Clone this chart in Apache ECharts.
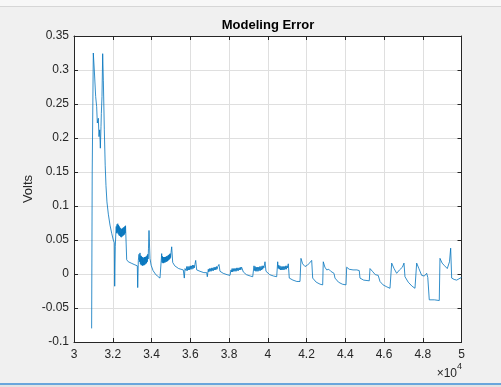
<!DOCTYPE html>
<html>
<head>
<meta charset="utf-8">
<script src="https://cdn.jsdelivr.net/npm/echarts@6/dist/echarts.min.js"></script>
<style>
  html, body { margin: 0; padding: 0; background: #f0f0f0; }
  #chart { width: 501px; height: 387px; }
</style>
</head>
<body>
<div id="chart"></div>
<script>
// ---- Data (time in samples, error in volts) ----
const chartTitle = "Modeling Error";
const yAxisName = "Volts";
const xTickValues = [30000, 32000, 34000, 36000, 38000, 40000, 42000, 44000, 46000, 48000, 50000];
const yTickValues = [-0.1, -0.05, 0, 0.05, 0.1, 0.15, 0.2, 0.25, 0.3, 0.35];
const xExponentBase = "×10";
const xExponentPower = "4";

const errorSeries = [
  [30910, -0.080], [30940, 0.150], [30996, 0.325], [31048, 0.300], [31118, 0.261],
  [31170, 0.246], [31204, 0.222], [31256, 0.229], [31290, 0.202], [31325, 0.212],
  [31360, 0.185], [31394, 0.217], [31411, 0.236], [31445, 0.261], [31480, 0.324],
  [31515, 0.285], [31565, 0.212], [31610, 0.160], [31650, 0.130], [31700, 0.106],
  [31772, 0.088], [31858, 0.072], [31945, 0.060], [32028, 0.050], [32080, 0.046],
  [32100, -0.018], [32130, 0.040], [32168, 0.066],
  [32180, 0.070], [32200, 0.060], [32220, 0.073], [32240, 0.061], [32260, 0.074],
  [32280, 0.059], [32300, 0.072], [32320, 0.057], [32340, 0.070], [32360, 0.056],
  [32380, 0.068], [32400, 0.055], [32420, 0.067], [32440, 0.054], [32460, 0.066],
  [32480, 0.055], [32500, 0.067], [32520, 0.056], [32540, 0.068], [32560, 0.057],
  [32580, 0.069], [32600, 0.058], [32620, 0.070], [32640, 0.060], [32660, 0.071],
  [32684, 0.073], [32720, 0.021], [32800, 0.018],
  [32950, 0.016], [33100, 0.014], [33267, 0.012], [33288, -0.020], [33320, 0.020],
  [33355, 0.029], [33380, 0.018], [33406, 0.031], [33425, 0.015], [33445, 0.027],
  [33465, 0.013], [33485, 0.026], [33505, 0.013], [33525, 0.025], [33545, 0.012],
  [33565, 0.024], [33585, 0.013], [33605, 0.024], [33625, 0.013], [33645, 0.025],
  [33665, 0.014], [33685, 0.025], [33705, 0.015], [33725, 0.026], [33745, 0.016],
  [33765, 0.027], [33785, 0.018], [33805, 0.029], [33825, 0.022], [33845, 0.038],
  [33871, 0.064], [33922, 0.023], [33980, 0.013], [34080, 0.005], [34200, 0.000],
  [34300, -0.003], [34438, -0.006], [34526, 0.030], [34545, 0.017], [34565, 0.026],
  [34585, 0.016], [34605, 0.025], [34625, 0.016], [34645, 0.025], [34665, 0.017],
  [34685, 0.025], [34705, 0.017], [34725, 0.025], [34745, 0.018], [34765, 0.026],
  [34785, 0.018], [34805, 0.026], [34825, 0.019], [34845, 0.027], [34865, 0.020],
  [34885, 0.028], [34905, 0.021], [34925, 0.029], [34945, 0.022], [34965, 0.030],
  [34985, 0.024], [35010, 0.032], [35042, 0.040], [35094, 0.017], [35200, 0.012],
  [35400, 0.008], [35641, 0.006], [35693, -0.006], [35730, 0.008], [35765, 0.010],
  [35790, 0.005], [35820, 0.011], [35850, 0.005], [35880, 0.011], [35910, 0.006],
  [35940, 0.011], [35970, 0.006], [36000, 0.012], [36030, 0.007], [36060, 0.012],
  [36090, 0.007], [36120, 0.013], [36150, 0.008], [36180, 0.013], [36210, 0.009],
  [36240, 0.014], [36281, 0.020], [36333, 0.006], [36500, 0.004], [36700, 0.002],
  [36849, 0.002], [36880, -0.004], [36931, 0.007], [36960, 0.003], [36990, 0.008],
  [37020, 0.004], [37050, 0.008], [37080, 0.004], [37110, 0.009], [37140, 0.005],
  [37170, 0.009], [37200, 0.005], [37230, 0.010], [37260, 0.006], [37290, 0.010],
  [37320, 0.006], [37350, 0.011], [37380, 0.007], [37420, 0.011], [37483, 0.014],
  [37535, 0.004], [37700, 0.001], [37900, -0.001], [38051, -0.002], [38103, 0.006],
  [38130, 0.003], [38160, 0.008], [38190, 0.003], [38220, 0.008], [38250, 0.004],
  [38280, 0.008], [38310, 0.004], [38340, 0.008], [38370, 0.004], [38400, 0.009],
  [38430, 0.005], [38460, 0.009], [38490, 0.005], [38520, 0.009], [38550, 0.006],
  [38580, 0.010], [38610, 0.006], [38650, 0.010], [38707, 0.012], [38738, 0.003],
  [38900, -0.001], [39100, -0.003], [39223, -0.004], [39290, 0.012], [39320, 0.005],
  [39350, 0.011], [39380, 0.004], [39410, 0.010], [39440, 0.004], [39470, 0.010],
  [39500, 0.004], [39530, 0.010], [39560, 0.005], [39590, 0.011], [39620, 0.005],
  [39650, 0.011], [39680, 0.006], [39710, 0.012], [39740, 0.007], [39770, 0.012],
  [39800, 0.009], [39830, 0.013], [39858, 0.018], [39909, 0.004], [40100, -0.001],
  [40300, -0.003], [40461, -0.004], [40513, 0.018], [40540, 0.008], [40570, 0.013],
  [40600, 0.007], [40630, 0.012], [40660, 0.006], [40690, 0.011], [40720, 0.006],
  [40750, 0.011], [40780, 0.006], [40810, 0.011], [40840, 0.006], [40870, 0.011],
  [40900, 0.007], [40930, 0.012], [40960, 0.007], [40990, 0.012], [41020, 0.009],
  [41060, 0.015], [41112, -0.006], [41300, -0.009], [41500, -0.011], [41664, -0.011],
  [41715, 0.023], [41800, 0.015], [41922, 0.011], [42050, 0.013], [42150, 0.016],
  [42268, 0.020], [42319, -0.006], [42500, -0.012], [42700, -0.015], [42835, -0.016],
  [42866, 0.018], [42950, 0.010], [43042, 0.006], [43150, 0.007], [43250, 0.004],
  [43350, 0.004], [43419, 0.001], [43470, -0.006], [43650, -0.012], [43850, -0.015],
  [44038, -0.016], [44074, 0.010], [44200, 0.007], [44400, 0.006], [44600, 0.006],
  [44724, 0.005], [44760, -0.006], [44950, -0.009], [45240, -0.010], [45277, 0.008],
  [45400, 0.004], [45550, -0.001], [45700, -0.002], [45793, -0.011], [45950, -0.016],
  [46150, -0.019], [46309, -0.021], [46396, 0.016], [46520, 0.008], [46654, 0.001],
  [46800, 0.006], [46950, 0.010], [47031, 0.016], [47083, -0.004], [47250, -0.012],
  [47450, -0.018], [47599, -0.021], [47686, 0.016], [47800, 0.008], [47944, -0.002],
  [48080, -0.003], [48203, 0.001], [48260, -0.005], [48337, -0.038], [48600, -0.038],
  [48853, -0.039], [48889, 0.023], [49000, 0.016], [49096, 0.013], [49266, 0.008],
  [49380, 0.018], [49441, 0.038], [49493, -0.006], [49620, -0.008], [49751, -0.009],
  [50000, -0.005]
];

// ---- Chart ----
const FONT = '"Liberation Sans", Arial, Helvetica, sans-serif';
const AXIS_COLOR = '#262626';
const GRID_COLOR = '#dfdfdf';

const xMin = xTickValues[0], xMax = xTickValues[xTickValues.length - 1];
const xStep = xTickValues[1] - xTickValues[0];
const yMin = yTickValues[0], yMax = yTickValues[yTickValues.length - 1];
const yStep = 0.05;

const chart = echarts.init(document.getElementById('chart'), null, { renderer: 'canvas' });

const commonX = {
  type: 'value', min: xMin, max: xMax, interval: xStep,
  axisLine: { show: true, onZero: false, lineStyle: { color: AXIS_COLOR, width: 1 } },
  axisTick: { show: true, inside: true, length: 4, lineStyle: { color: AXIS_COLOR } }
};
const commonY = {
  type: 'value', min: yMin, max: yMax, interval: yStep,
  axisLine: { show: true, onZero: false, lineStyle: { color: AXIS_COLOR, width: 1 } },
  axisTick: { show: true, inside: true, length: 4, lineStyle: { color: AXIS_COLOR } }
};

chart.setOption({
  animation: false,
  backgroundColor: '#f0f0f0',
  textStyle: { fontFamily: FONT },
  grid: {
    left: 74, top: 36, right: 39.5, bottom: 45,
    show: true, backgroundColor: '#ffffff', borderWidth: 0
  },
  xAxis: [
    Object.assign({}, commonX, {
      position: 'bottom',
      splitLine: { show: true, lineStyle: { color: GRID_COLOR, width: 1 } },
      axisLabel: {
        color: AXIS_COLOR, fontSize: 12, fontFamily: FONT, margin: 7,
        formatter: v => String(parseFloat((v / 10000).toFixed(1)))
      }
    }),
    Object.assign({}, commonX, {
      position: 'top',
      splitLine: { show: false },
      axisLabel: { show: false }
    })
  ],
  yAxis: [
    Object.assign({}, commonY, {
      position: 'left',
      splitLine: { show: true, lineStyle: { color: GRID_COLOR, width: 1 } },
      axisLabel: {
        color: AXIS_COLOR, fontSize: 12, fontFamily: FONT, margin: 5,
        formatter: v => String(parseFloat(v.toFixed(2)))
      }
    }),
    Object.assign({}, commonY, {
      position: 'right',
      splitLine: { show: false },
      axisLabel: { show: false }
    })
  ],
  series: [{
    type: 'line',
    xAxisIndex: 0, yAxisIndex: 0,
    data: errorSeries,
    showSymbol: false,
    symbol: 'none',
    sampling: null,
    lineStyle: { color: '#0072bd', width: 0.8 },
    clip: true
  }],
  graphic: [
    { type: 'rect', shape: { x: 0, y: 0, width: 501, height: 6 }, style: { fill: '#f7f7f7' }, z: -1 },
    { type: 'rect', shape: { x: 0, y: 6, width: 501, height: 1 }, style: { fill: '#d6d6d6' }, z: -1 },
    { type: 'rect', shape: { x: 0, y: 383, width: 501, height: 2 }, style: { fill: '#6aa6dc' }, z: -1 },
    { type: 'rect', shape: { x: 0, y: 385, width: 501, height: 2 }, style: { fill: '#e4e4e4' }, z: -1 },
    {
      type: 'text', x: 268, y: 25,
      style: { text: chartTitle, font: 'bold 13px ' + FONT, fill: '#000000', align: 'center', verticalAlign: 'middle' }
    },
    {
      type: 'text', x: 28.5, y: 189, rotation: Math.PI / 2,
      style: { text: yAxisName, font: '13px ' + FONT, fill: AXIS_COLOR, align: 'center', verticalAlign: 'middle' }
    },
    {
      type: 'text', x: 457, y: 374,
      style: { text: xExponentBase, font: '12px ' + FONT, fill: AXIS_COLOR, align: 'right', verticalAlign: 'middle' }
    },
    {
      type: 'text', x: 457, y: 367,
      style: { text: xExponentPower, font: '9px ' + FONT, fill: AXIS_COLOR, align: 'left', verticalAlign: 'middle' }
    }
  ]
});
</script>
</body>
</html>
